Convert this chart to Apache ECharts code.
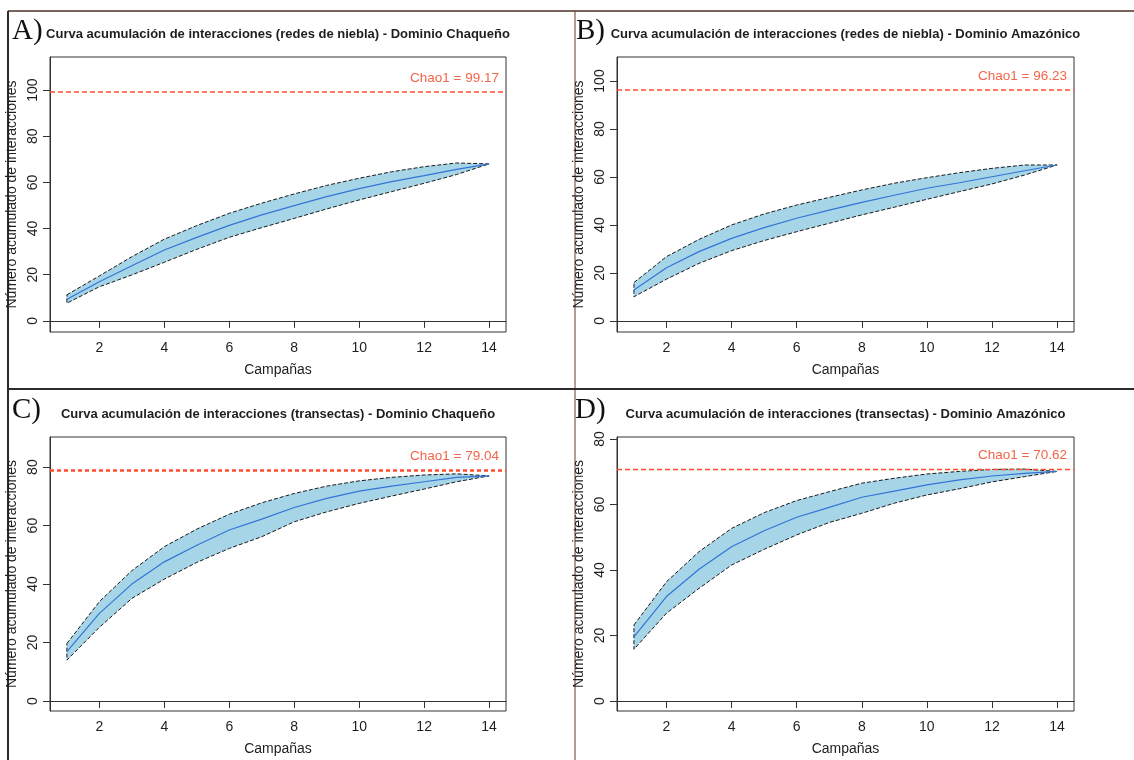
<!DOCTYPE html>
<html>
<head>
<meta charset="utf-8">
<script src="https://cdn.jsdelivr.net/npm/echarts@6/dist/echarts.min.js"></script>
<style>
  html, body { margin: 0; padding: 0; background: #ffffff; }
  #chart { width: 1134px; height: 760px; }
</style>
</head>
<body>
<div id="chart"></div>
<script>
// Campaigns (x axis) and tick values
const campanas = [1, 2, 3, 4, 5, 6, 7, 8, 9, 10, 11, 12, 13, 14];
const xTicks = [2, 4, 6, 8, 10, 12, 14];

// A) Mist nets - Chaco domain
const chaqRedesMedia = [9.4, 17.0, 23.9, 30.7, 36.2, 41.4, 45.9, 49.9, 53.8, 57.3, 60.3, 62.9, 65.6, 68.0];
const chaqRedesSup   = [11.3, 19.5, 27.8, 35.4, 41.3, 46.6, 51.0, 55.0, 58.7, 61.8, 64.6, 66.8, 68.4, 68.0];
const chaqRedesInf   = [7.7, 14.8, 19.9, 25.4, 31.0, 36.2, 40.4, 44.4, 48.5, 52.4, 56.0, 59.6, 63.4, 68.0];
const chaqRedesChao1 = 99.17;
const yTicksA = [0, 20, 40, 60, 80, 100];

// B) Mist nets - Amazon domain
const amazRedesMedia = [12.9, 22.2, 28.9, 34.4, 38.9, 42.8, 46.2, 49.4, 52.4, 55.3, 57.6, 60.1, 62.6, 65.0];
const amazRedesSup   = [16.0, 26.8, 34.0, 40.0, 44.6, 48.3, 51.5, 54.6, 57.4, 59.7, 61.8, 63.6, 65.0, 65.0];
const amazRedesInf   = [10.1, 17.4, 24.0, 29.3, 33.5, 37.2, 40.7, 44.2, 47.4, 50.7, 53.9, 57.1, 60.8, 65.0];
const amazRedesChao1 = 96.23;
const yTicksB = [0, 20, 40, 60, 80, 100];

// C) Transects - Chaco domain
const chaqTransMedia = [16.9, 30.0, 40.0, 47.6, 53.3, 58.5, 62.2, 66.2, 69.3, 71.8, 73.5, 75.0, 76.5, 77.0];
const chaqTransSup   = [19.7, 34.0, 44.6, 52.8, 58.8, 63.9, 67.8, 71.0, 73.5, 75.3, 76.5, 77.3, 77.7, 77.0];
const chaqTransInf   = [14.0, 25.2, 35.1, 41.7, 47.4, 52.2, 56.2, 61.3, 64.7, 67.6, 70.1, 72.5, 75.0, 77.0];
const chaqTransChao1 = 79.04;
const yTicksC = [0, 20, 40, 60, 80];

// D) Transects - Amazon domain
const amazTransMedia = [19.6, 31.9, 40.2, 47.1, 52.0, 56.1, 59.1, 62.2, 64.1, 66.0, 67.5, 68.7, 69.5, 70.1];
const amazTransSup   = [23.2, 36.4, 45.6, 52.7, 57.5, 61.2, 63.9, 66.5, 68.0, 69.3, 70.1, 70.7, 70.8, 70.1];
const amazTransInf   = [15.8, 26.8, 34.4, 41.5, 46.3, 50.7, 54.5, 57.3, 60.4, 62.9, 64.8, 66.9, 68.5, 70.1];
const amazTransChao1 = 70.62;
const yTicksD = [0, 20, 40, 60, 80];

// Panel layout and styling
const panels = [
  { letter: 'A)', title: 'Curva acumulación de interacciones (redes de niebla) - Dominio Chaqueño',
    media: chaqRedesMedia, sup: chaqRedesSup, inf: chaqRedesInf, chao: chaqRedesChao1, yTicks: yTicksA,
    yMin: -4.8, yMax: 114.3, grid: { left: 50, top: 57, width: 456, height: 275 },
    letterPos: [12, 17], chaoLine: { width: 1.6, dash: [5, 3] } },
  { letter: 'B)', title: 'Curva acumulación de interacciones (redes de niebla) - Dominio Amazónico',
    media: amazRedesMedia, sup: amazRedesSup, inf: amazRedesInf, chao: amazRedesChao1, yTicks: yTicksB,
    yMin: -4.6, yMax: 110.0, grid: { left: 617, top: 57, width: 457, height: 275 },
    letterPos: [576, 17], chaoLine: { width: 1.6, dash: [5, 3] } },
  { letter: 'C)', title: 'Curva acumulación de interacciones (transectas) - Dominio Chaqueño',
    media: chaqTransMedia, sup: chaqTransSup, inf: chaqTransInf, chao: chaqTransChao1, yTicks: yTicksC,
    yMin: -3.4, yMax: 90.3, grid: { left: 50, top: 437, width: 456, height: 274 },
    letterPos: [12, 396], chaoLine: { width: 2.6, dash: [4, 3] } },
  { letter: 'D)', title: 'Curva acumulación de interacciones (transectas) - Dominio Amazónico',
    media: amazTransMedia, sup: amazTransSup, inf: amazTransInf, chao: amazTransChao1, yTicks: yTicksD,
    yMin: -3.05, yMax: 80.6, grid: { left: 617, top: 437, width: 457, height: 274 },
    letterPos: [575, 396], chaoLine: { width: 1.3, dash: [5, 3] } }
];

const axisColor = '#333333';
const textColor = '#1e1e1e';
const sansFont = 'Liberation Sans, Arial, sans-serif';

const option = {
  animation: false,
  backgroundColor: '#ffffff',
  grid: [], xAxis: [], yAxis: [], series: [], title: [],
  graphic: [
    // panel frame lines
    { type: 'line', shape: { x1: 8, y1: 11, x2: 1134, y2: 11 }, style: { stroke: '#4b2f27', lineWidth: 1.5 }, silent: true },
    { type: 'line', shape: { x1: 8, y1: 11, x2: 8, y2: 760 }, style: { stroke: '#2b2b2b', lineWidth: 2 }, silent: true },
    { type: 'line', shape: { x1: 575, y1: 11, x2: 575, y2: 760 }, style: { stroke: '#6b3a2c', lineWidth: 1 }, silent: true },
    { type: 'line', shape: { x1: 8, y1: 389, x2: 1134, y2: 389 }, style: { stroke: '#2b2b2b', lineWidth: 2 }, silent: true }
  ]
};

panels.forEach(function (p, i) {
  const g = p.grid;
  option.grid.push({ left: g.left, top: g.top, width: g.width, height: g.height,
    show: true, borderColor: axisColor, borderWidth: 1, backgroundColor: '#ffffff' });

  option.title.push({
    text: p.title, left: g.left + g.width / 2, top: g.top - 29, textAlign: 'center', padding: 0,
    textStyle: { fontFamily: sansFont, fontSize: 13, fontWeight: 'bold', color: textColor }
  });
  option.title.push({
    text: p.letter, left: p.letterPos[0], top: p.letterPos[1], padding: 0,
    textStyle: { fontFamily: 'Liberation Serif, DejaVu Serif, serif', fontSize: 29, fontWeight: 'normal', color: '#111111' }
  });

  option.xAxis.push({
    type: 'value', gridIndex: i, min: 0.48, max: 14.52,
    name: 'Campañas', nameLocation: 'middle', nameGap: 31,
    nameTextStyle: { fontFamily: sansFont, fontSize: 14, color: textColor },
    axisLine: { show: true, lineStyle: { color: axisColor, width: 1 } },
    axisTick: { show: true, length: 7, customValues: xTicks, lineStyle: { color: axisColor } },
    axisLabel: { customValues: xTicks, margin: 9, fontFamily: sansFont, fontSize: 14, color: textColor },
    splitLine: { show: false }
  });

  option.yAxis.push({
    type: 'value', gridIndex: i, min: p.yMin, max: p.yMax,
    name: 'Número acumulado de interacciones', nameLocation: 'middle', nameGap: 31, nameRotate: 90,
    nameTextStyle: { fontFamily: sansFont, fontSize: 14, color: textColor },
    axisLine: { show: true, lineStyle: { color: axisColor, width: 1 } },
    axisTick: { show: true, length: 7, customValues: p.yTicks, lineStyle: { color: axisColor } },
    axisLabel: { customValues: p.yTicks, rotate: 90, margin: 10, fontFamily: sansFont, fontSize: 14, color: textColor },
    splitLine: { show: false }
  });

  // confidence band polygon (upper bound forward, lower bound backward)
  option.series.push({
    type: 'custom', xAxisIndex: i, yAxisIndex: i, silent: true, z: 2,
    data: [[campanas[0], p.inf[0]]],
    renderItem: function (params, api) {
      const pts = [];
      for (let k = 0; k < campanas.length; k++) pts.push(api.coord([campanas[k], p.sup[k]]));
      for (let k = campanas.length - 1; k >= 0; k--) pts.push(api.coord([campanas[k], p.inf[k]]));
      return {
        type: 'polygon', shape: { points: pts },
        style: { fill: '#a6d5e8', stroke: '#1a1a1a', lineWidth: 1, lineDash: [4, 2] }
      };
    }
  });

  // mean accumulation curve with Chao1 reference line
  option.series.push({
    type: 'line', xAxisIndex: i, yAxisIndex: i, z: 3, silent: true,
    data: campanas.map(function (c, k) { return [c, p.media[k]]; }),
    showSymbol: false, smooth: false,
    lineStyle: { color: '#3474d6', width: 1.2 },
    markLine: {
      silent: true, symbol: 'none', animation: false,
      data: [{ yAxis: p.chao }],
      lineStyle: { color: '#ff4b2e', width: p.chaoLine.width, type: p.chaoLine.dash },
      label: {
        show: true, position: 'insideEndTop', distance: [7, 7],
        formatter: 'Chao1 = ' + p.chao.toFixed(2),
        fontFamily: sansFont, fontSize: 13.5, color: '#f2654a'
      }
    }
  });
});

const chart = echarts.init(document.getElementById('chart'), null, { renderer: 'canvas' });
chart.setOption(option);
</script>
</body>
</html>
